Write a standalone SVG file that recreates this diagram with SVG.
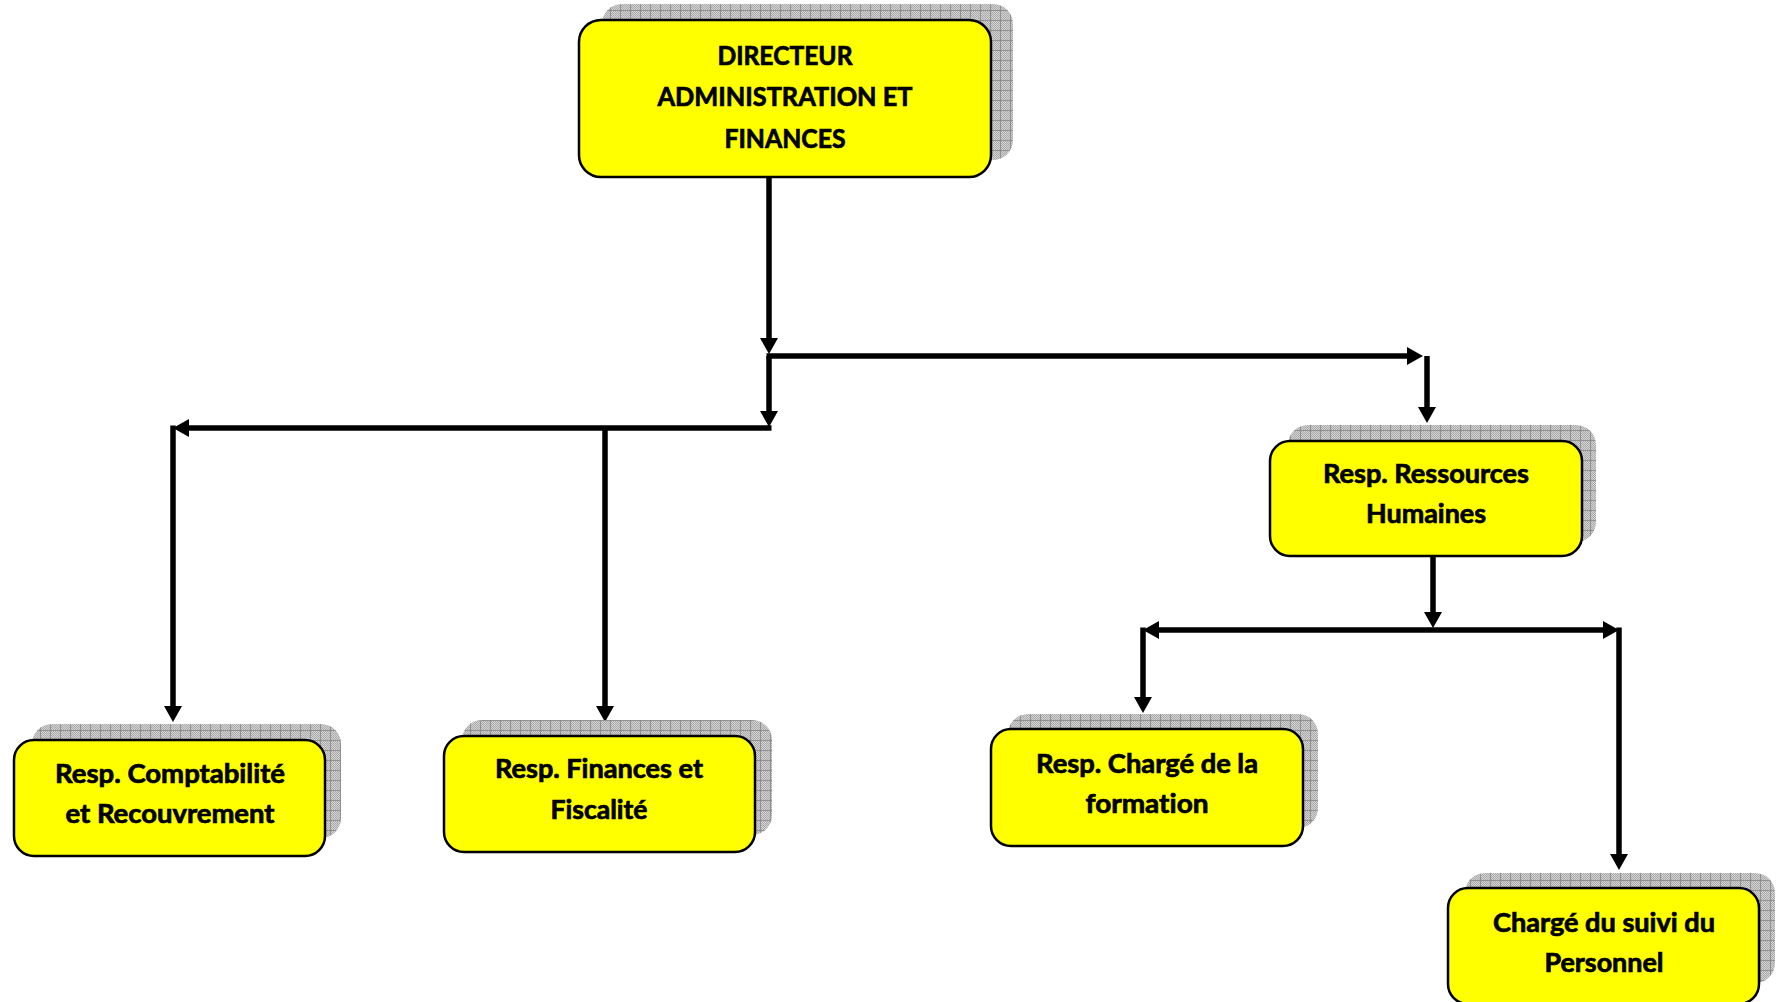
<svg xmlns="http://www.w3.org/2000/svg" width="1778" height="1002" viewBox="0 0 1778 1002">
  <defs>
    <pattern id="dots" width="2" height="2" patternUnits="userSpaceOnUse">
      <rect width="2" height="2" fill="#d2d2d2"/>
      <rect width="1" height="1" fill="#ababab"/>
      <rect x="1" y="1" width="1" height="1" fill="#ababab"/>
    </pattern>
    <pattern id="grid" width="10" height="10" patternUnits="userSpaceOnUse">
      <rect width="10" height="10" fill="url(#dots)"/>
      <path d="M0 0.5H10M0.5 0V10" stroke="#909090" stroke-width="1" fill="none"/>
    </pattern>
    <marker id="arrow" viewBox="0 -9 16 18" markerWidth="16" markerHeight="18" refX="2" refY="0" orient="auto" markerUnits="userSpaceOnUse">
      <path d="M0 -9 L16 0 L0 9 Z" fill="#000"/>
    </marker>
    <style>
      .shadow { fill: url(#grid); }
      .box { fill: #ffff00; stroke: #000; stroke-width: 2.5; }
      .lbl { font-family: Lato, "Open Sans", "Liberation Sans", sans-serif; font-weight: bold; font-size: 26px; fill: #000; stroke: #000; stroke-width: 0.7; text-anchor: middle; font-variant-ligatures: none; }
      .conn { fill: none; stroke: #000; stroke-width: 5.5; marker-end: url(#arrow); }
    </style>
  </defs>
  <rect width="1778" height="1002" fill="#fff"/>

  <g id="connectors">
    <path class="conn" d="M769 177 V340"/>
    <path class="conn" d="M766.5 356 H1409"/>
    <path class="conn" d="M1427 356 V409"/>
    <path class="conn" d="M769 356 V413"/>
    <path class="conn" d="M771.5 428 H187"/>
    <path class="conn" d="M173 425.5 V708"/>
    <path class="conn" d="M605 428 V708"/>
    <path class="conn" d="M1433 556 V614"/>
    <path class="conn" d="M1433 630 H1157"/>
    <path class="conn" d="M1433 630 H1605"/>
    <path class="conn" d="M1143 627.5 V699"/>
    <path class="conn" d="M1619 627.5 V856"/>
  </g>

  <g id="node-directeur">
    <rect class="shadow" x="602" y="4" width="411" height="156" rx="20"/>
    <rect class="box" x="579" y="20" width="412" height="157" rx="22"/>
    <text class="lbl" x="785" y="65" textLength="135" lengthAdjust="spacingAndGlyphs">DIRECTEUR</text>
    <text class="lbl" x="785" y="106" textLength="255" lengthAdjust="spacingAndGlyphs">ADMINISTRATION ET</text>
    <text class="lbl" x="785" y="148" textLength="121" lengthAdjust="spacingAndGlyphs">FINANCES</text>
  </g>

  <g id="node-rh">
    <rect class="shadow" x="1288" y="425" width="308" height="117" rx="20"/>
    <rect class="box" x="1270" y="441" width="312" height="115" rx="20"/>
    <text class="lbl" x="1426" y="483" textLength="206" lengthAdjust="spacingAndGlyphs">Resp. Ressources</text>
    <text class="lbl" x="1426" y="523" textLength="120" lengthAdjust="spacingAndGlyphs">Humaines</text>
  </g>

  <g id="node-comptabilite">
    <rect class="shadow" x="32" y="724" width="309" height="114" rx="20"/>
    <rect class="box" x="14" y="740" width="311" height="116" rx="20"/>
    <text class="lbl" x="170" y="783" textLength="230" lengthAdjust="spacingAndGlyphs">Resp. Comptabilité</text>
    <text class="lbl" x="170" y="823" textLength="209" lengthAdjust="spacingAndGlyphs">et Recouvrement</text>
  </g>

  <g id="node-finances">
    <rect class="shadow" x="462" y="720" width="310" height="115" rx="20"/>
    <rect class="box" x="444" y="736" width="311" height="116" rx="20"/>
    <text class="lbl" x="599" y="778" textLength="208" lengthAdjust="spacingAndGlyphs">Resp. Finances et</text>
    <text class="lbl" x="599" y="819" textLength="97" lengthAdjust="spacingAndGlyphs">Fiscalité</text>
  </g>

  <g id="node-formation">
    <rect class="shadow" x="1008" y="714" width="310" height="114" rx="20"/>
    <rect class="box" x="991" y="729" width="312" height="117" rx="20"/>
    <text class="lbl" x="1147" y="773" textLength="222" lengthAdjust="spacingAndGlyphs">Resp. Chargé de la</text>
    <text class="lbl" x="1147" y="813" textLength="123" lengthAdjust="spacingAndGlyphs">formation</text>
  </g>

  <g id="node-personnel">
    <rect class="shadow" x="1465" y="873" width="310" height="110" rx="20"/>
    <rect class="box" x="1448" y="888" width="311" height="116" rx="20"/>
    <text class="lbl" x="1604" y="932" textLength="222" lengthAdjust="spacingAndGlyphs">Chargé du suivi du</text>
    <text class="lbl" x="1604" y="972" textLength="119" lengthAdjust="spacingAndGlyphs">Personnel</text>
  </g>
</svg>
